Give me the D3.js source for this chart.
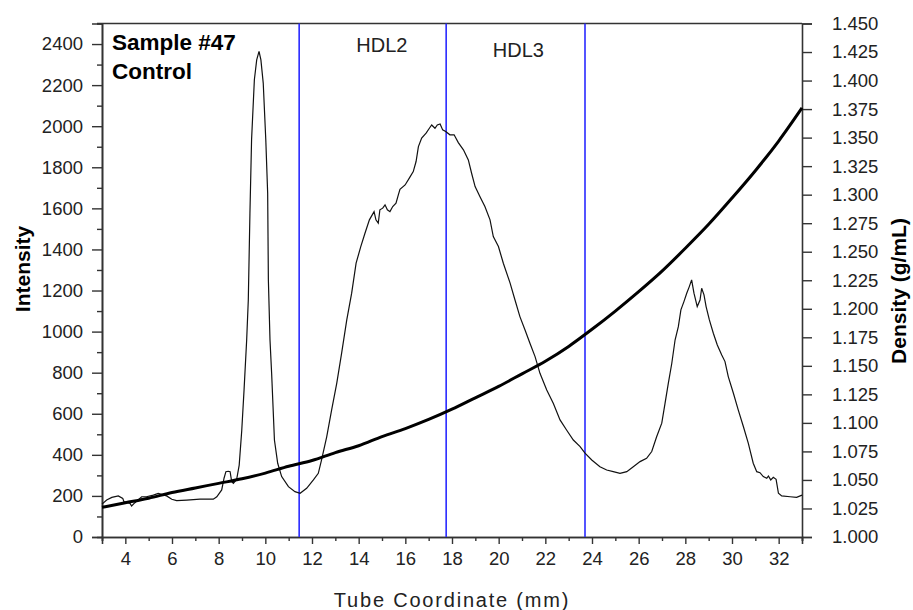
<!DOCTYPE html>
<html>
<head>
<meta charset="utf-8">
<script src="https://cdn.jsdelivr.net/npm/d3@7"></script>
<style>
  body { margin: 0; background: #fff; }
  svg text { font-family: "Liberation Sans", Arial, sans-serif; }
</style>
</head>
<body>
<div id="chart"></div>
<script>
// tube position (mm) and intensity
var tubeMm = [3.00,3.20,3.42,3.70,3.89,3.94,4.20,4.27,4.41,4.70,4.90,5.20,5.41,5.77,5.99,6.20,6.63,7.20,7.77,7.92,
  8.13,8.23,8.31,8.41,8.49,8.56,8.63,8.77,8.88,8.99,9.09,9.20,9.27,9.34,9.41,9.53,9.63,9.73,9.81,9.91,
  10.02,10.10,10.13,10.20,10.27,10.39,10.53,10.70,10.99,11.27,11.49,11.77,12.06,12.27,12.41,12.63,12.84,13.06,13.27,13.49,
  13.70,13.89,14.09,14.27,14.46,14.66,14.74,14.84,14.91,15.03,15.13,15.23,15.34,15.46,15.60,15.70,15.77,15.99,16.17,16.34,
  16.46,16.56,16.70,16.89,17.03,17.13,17.27,17.37,17.49,17.60,17.73,17.91,18.09,18.27,18.49,18.70,18.84,18.99,19.20,19.41,
  19.63,19.77,19.99,20.20,20.49,20.70,20.91,21.13,21.34,21.56,21.77,22.06,22.34,22.63,22.91,23.20,23.49,23.70,23.99,24.34,
  24.63,24.91,25.20,25.49,25.77,26.06,26.34,26.56,26.77,26.99,27.13,27.27,27.42,27.56,27.70,27.81,27.94,28.06,28.17,28.27,
  28.37,28.51,28.63,28.70,28.80,28.89,29.03,29.20,29.37,29.56,29.70,29.84,30.06,30.27,30.49,30.70,30.91,31.06,31.20,31.34,
  31.49,31.56,31.66,31.77,31.89,31.99,32.13,32.49,32.77,33.00];
var intensity = [160,180,193,200,188,172,164,151,167,196,196,204,212,200,184,177,180,184,184,196,
  229,286,318,320,318,269,261,280,350,520,720,959,1154,1576,1933,2226,2323,2364,2323,2210,
  1933,1674,1252,959,797,472,359,294,245,221,213,237,278,310,375,488,618,748,895,1057,
  1187,1333,1414,1479,1544,1584,1544,1528,1593,1601,1617,1593,1584,1609,1625,1666,1693,1714,1747,1779,
  1828,1901,1942,1966,1990,2006,1990,2006,2011,1982,1974,1958,1958,1920,1885,1836,1771,1706,1657,1609,
  1544,1463,1414,1333,1236,1154,1073,1008,943,878,797,716,651,570,521,472,440,408,375,342,
  326,318,310,318,342,367,383,416,488,554,651,748,846,959,1024,1106,1146,1187,1219,1252,
  1187,1122,1154,1211,1179,1122,1057,992,935,886,854,781,700,618,537,456,359,318,313,294,
  286,297,278,291,281,213,200,196,193,204];

// density gradient
var densityMm = [3,4,5,6,7,8,9,10,11,12,13,14,15,16,17,18,19,20,21,22,23,24,25,26,27,28,29,30,31,32,33];
var density = [1.026,1.030,1.034,1.039,1.043,1.047,1.051,1.056,1.062,1.067,1.074,1.080,1.088,1.095,1.103,1.112,
  1.122,1.132,1.143,1.154,1.167,1.182,1.198,1.215,1.233,1.253,1.274,1.297,1.321,1.347,1.376];

// fraction boundaries and labels
var boundaries = [11.45, 17.75, 23.7];
var regionLabels = [{text: "HDL2", x: 13.9, y: 2359}, {text: "HDL3", x: 19.75, y: 2339}];
var sampleLines = ["Sample #47", "Control"];

var width = 913, height = 610;
var margin = {left: 102, right: 111, top: 23.5, bottom: 73};

var svg = d3.select("#chart").append("svg").attr("width", width).attr("height", height);

var x = d3.scaleLinear().domain([3, 33]).range([margin.left, width - margin.right]);
var yI = d3.scaleLinear().domain([0, 2500]).range([height - margin.bottom, margin.top]);
var yD = d3.scaleLinear().domain([1.0, 1.45]).range([height - margin.bottom, margin.top]);

var axisColor = "#333";
var labelColor = "#222";

function styleAxis(g) {
  g.select(".domain").attr("stroke", axisColor).attr("stroke-width", 1.6);
  g.selectAll(".tick line").attr("stroke", axisColor).attr("stroke-width", 1.4);
  g.selectAll(".tick text").attr("fill", labelColor).style("font-size", "18.5px");
}

// minor ticks first
svg.append("g")
  .attr("transform", `translate(${margin.left},0)`)
  .call(d3.axisLeft(yI).tickValues(d3.range(100, 2500, 200)).tickSize(5).tickFormat(""))
  .call(styleAxis);
svg.append("g")
  .attr("transform", `translate(0,${height - margin.bottom})`)
  .call(d3.axisBottom(x).tickValues(d3.range(3, 34, 2)).tickSize(4).tickFormat(""))
  .call(styleAxis);

svg.append("g")
  .attr("transform", `translate(${margin.left},0)`)
  .call(d3.axisLeft(yI).tickValues(d3.range(0, 2401, 200)).tickSize(10).tickPadding(9).tickFormat(d3.format("d")))
  .call(styleAxis);

svg.append("g")
  .attr("transform", `translate(0,${height - margin.bottom})`)
  .call(d3.axisBottom(x).tickValues(d3.range(4, 33, 2)).tickSize(7).tickPadding(8))
  .call(styleAxis);

svg.append("g")
  .attr("transform", `translate(${width - margin.right},0)`)
  .call(d3.axisRight(yD).tickValues(d3.range(0, 19).map(i => 1 + i * 0.025)).tickSize(10).tickPadding(20).tickFormat(d3.format(".3f")))
  .call(styleAxis);

// top frame line
svg.append("line")
  .attr("x1", margin.left - 5).attr("x2", width - margin.right)
  .attr("y1", margin.top).attr("y2", margin.top)
  .attr("stroke", axisColor).attr("stroke-width", 1.6);

// blue boundaries
svg.append("g").selectAll("line")
  .data(boundaries)
  .join("line")
    .attr("x1", d => x(d)).attr("x2", d => x(d))
    .attr("y1", margin.top).attr("y2", height - margin.bottom)
    .attr("stroke", "#2a2aff").attr("stroke-width", 1.6);

// intensity trace
var trace = tubeMm.map((t, i) => [t, intensity[i]]);
svg.append("path")
  .datum(trace)
  .attr("fill", "none")
  .attr("stroke", "#111")
  .attr("stroke-width", 1.2)
  .attr("d", d3.line().x(d => x(d[0])).y(d => yI(d[1])));

// density curve
var dens = densityMm.map((t, i) => [t, density[i]]);
svg.append("path")
  .datum(dens)
  .attr("fill", "none")
  .attr("stroke", "#000")
  .attr("stroke-width", 3)
  .attr("d", d3.line().curve(d3.curveMonotoneX).x(d => x(d[0])).y(d => yD(d[1])));

// region labels
svg.append("g").selectAll("text")
  .data(regionLabels)
  .join("text")
    .attr("x", d => x(d.x)).attr("y", d => yI(d.y))
    .attr("fill", labelColor)
    .style("font-size", "20px")
    .text(d => d.text);

svg.append("g").selectAll("text")
  .data(sampleLines)
  .join("text")
    .attr("x", 112).attr("y", (d, i) => 50 + i * 29)
    .attr("fill", "#000")
    .style("font-size", "22.5px").style("font-weight", "bold")
    .text(d => d);

// axis titles
svg.append("text")
  .attr("x", x(18)).attr("y", 607)
  .attr("text-anchor", "middle")
  .attr("fill", labelColor)
  .style("font-size", "20px").style("letter-spacing", "1.8px")
  .text("Tube Coordinate (mm)");

svg.append("text")
  .attr("transform", "translate(30,269) rotate(-90)")
  .attr("text-anchor", "middle")
  .attr("fill", "#000")
  .style("font-size", "21px").style("font-weight", "bold")
  .text("Intensity");

svg.append("text")
  .attr("transform", "translate(906,291) rotate(-90)")
  .attr("text-anchor", "middle")
  .attr("fill", "#000")
  .style("font-size", "21px").style("font-weight", "bold")
  .text("Density (g/mL)");
</script>
</body>
</html>
